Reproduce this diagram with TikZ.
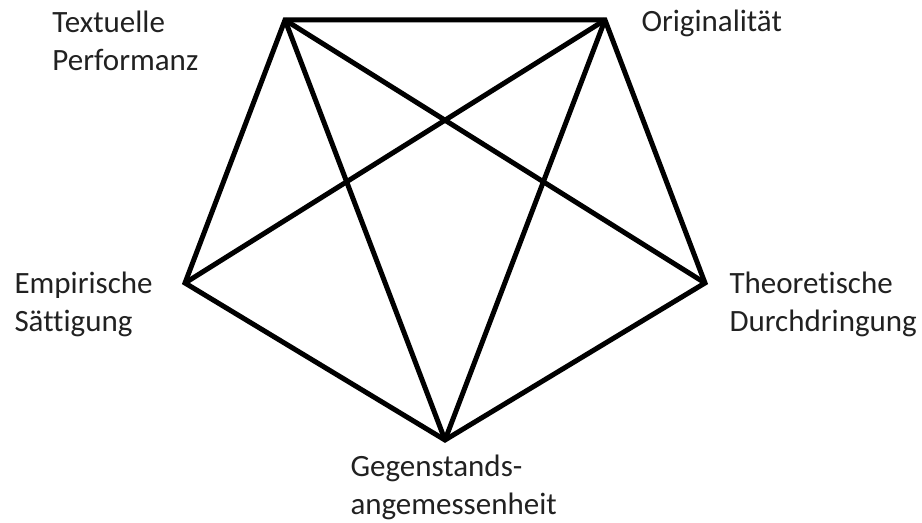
\documentclass[tikz,border=0pt]{standalone}
\usepackage{fontspec}
\setmainfont{Carlito}[Ligatures={NoCommon}]

\begin{document}
\begin{tikzpicture}[x=0.5pt, y=-0.5pt,
    line width=2.5pt,
    lbl/.style={inner sep=0pt, align=left, anchor=base west, text=black!87,
      font=\fontsize{15.5}{19.3}\selectfont},
    edge/.style={draw=black, line join=miter}]

  \useasboundingbox (0,0) rectangle (922,523);

  \coordinate (tp) at (285,20);
  \coordinate (or) at (605,20);
  \coordinate (th) at (705,283);
  \coordinate (ge) at (445,440);
  \coordinate (em) at (185,283);

  % base anchor sits on the last line
  \node[lbl] (tpl) at (50,71)   {Textuelle\\Performanz};
  \node[lbl] (orl) at (639,32)  {Originalität};
  \node[lbl] (eml) at (12,332)  {Empirische\\Sättigung};
  \node[lbl] (thl) at (727,332) {Theoretische\\Durchdringung};
  \node[lbl] (gel) at (348,515) {Gegenstands-\\angemessenheit};

  \draw[edge] (tp) -- (or) -- (th) -- (ge) -- (em) -- cycle;
  \draw[edge] (tp) -- (th);
  \draw[edge] (tp) -- (ge);
  \draw[edge] (or) -- (ge);
  \draw[edge] (or) -- (em);
\end{tikzpicture}
\end{document}
